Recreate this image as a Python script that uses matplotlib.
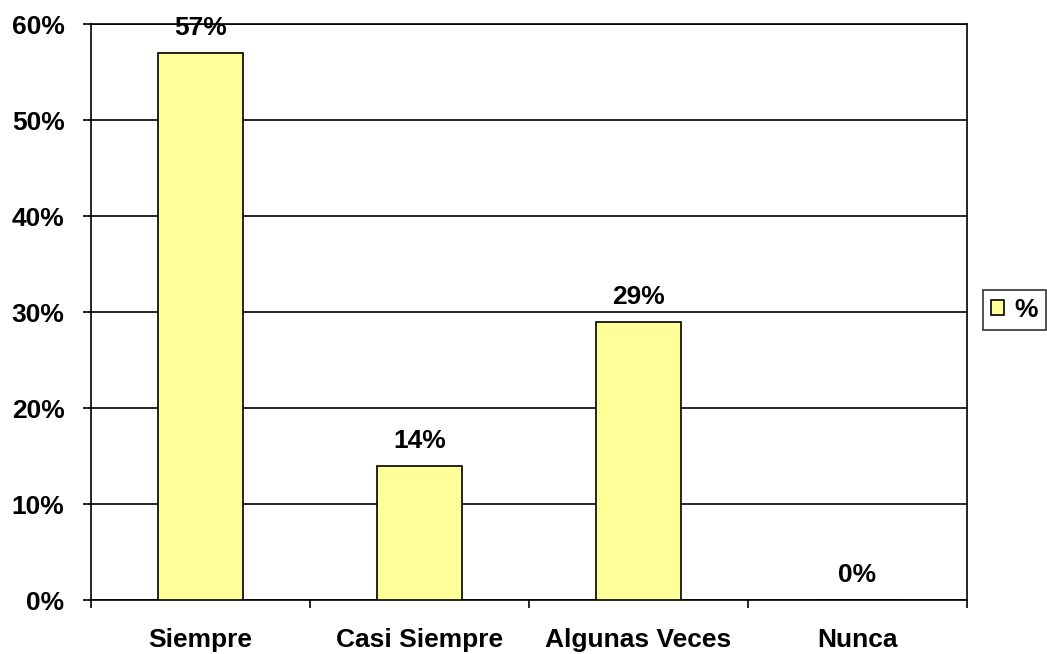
import matplotlib
matplotlib.use("Agg")
import matplotlib.pyplot as plt
from matplotlib.ticker import FuncFormatter, FixedLocator, NullFormatter

categorias = ["Siempre", "Casi Siempre", "Algunas Veces", "Nunca"]
porcentajes = [57, 14, 29, 0]
serie = "%"

plt.rcParams['font.family'] = ['Liberation Sans', 'DejaVu Sans']
plt.rcParams['font.weight'] = 'bold'

fig = plt.figure(figsize=(10.47, 6.54), dpi=100)
ax = fig.add_axes([91/1047, 1 - 600/654, (967 - 91)/1047, (600 - 24)/654])

x = range(len(categorias))
barras = ax.bar(x, porcentajes, width=0.39, color="#FFFF99", edgecolor="black",
                linewidth=1.2, label=serie, zorder=3)

for xi, v in zip(x, porcentajes):
    ax.annotate("{}%".format(v), (xi, v), xytext=(0, 18), textcoords="offset points",
                ha="center", va="center", fontsize=19, fontweight="bold", zorder=4)

ax.set_xlim(-0.5, len(categorias) - 0.5)
ax.set_ylim(0, 60)
ax.set_yticks(range(0, 61, 10))
ax.yaxis.set_major_formatter(FuncFormatter(lambda v, p: "{:d}%".format(int(v))))
ax.grid(axis="y", color="black", linewidth=1.2, zorder=0)

# x ticks at category boundaries, labels at centers
ax.xaxis.set_major_locator(FixedLocator([i - 0.5 for i in range(len(categorias) + 1)]))
ax.xaxis.set_major_formatter(NullFormatter())
ax.xaxis.set_minor_locator(FixedLocator(list(x)))
ax.set_xticklabels(categorias, minor=True)
ax.tick_params(axis="x", which="minor", length=0, pad=20, labelsize=19)
ax.tick_params(axis="x", which="major", length=6, width=1.2, direction="out")
ax.tick_params(axis="y", length=6, width=1.2, direction="out", labelsize=19, pad=13)

for s in ax.spines.values():
    s.set_linewidth(1.2)
    s.set_color("black")

leg = fig.legend(handles=[barras], labels=[serie], loc="center left",
                 bbox_to_anchor=(983/1047, 1 - 310/654), frameon=True, fancybox=False,
                 edgecolor="black", fontsize=19, handlelength=0.5, handleheight=0.5,
                 borderpad=0.3, handletextpad=0.4, borderaxespad=0)
leg.get_frame().set_linewidth(1.2)

fig.savefig("out.png", dpi=100)
